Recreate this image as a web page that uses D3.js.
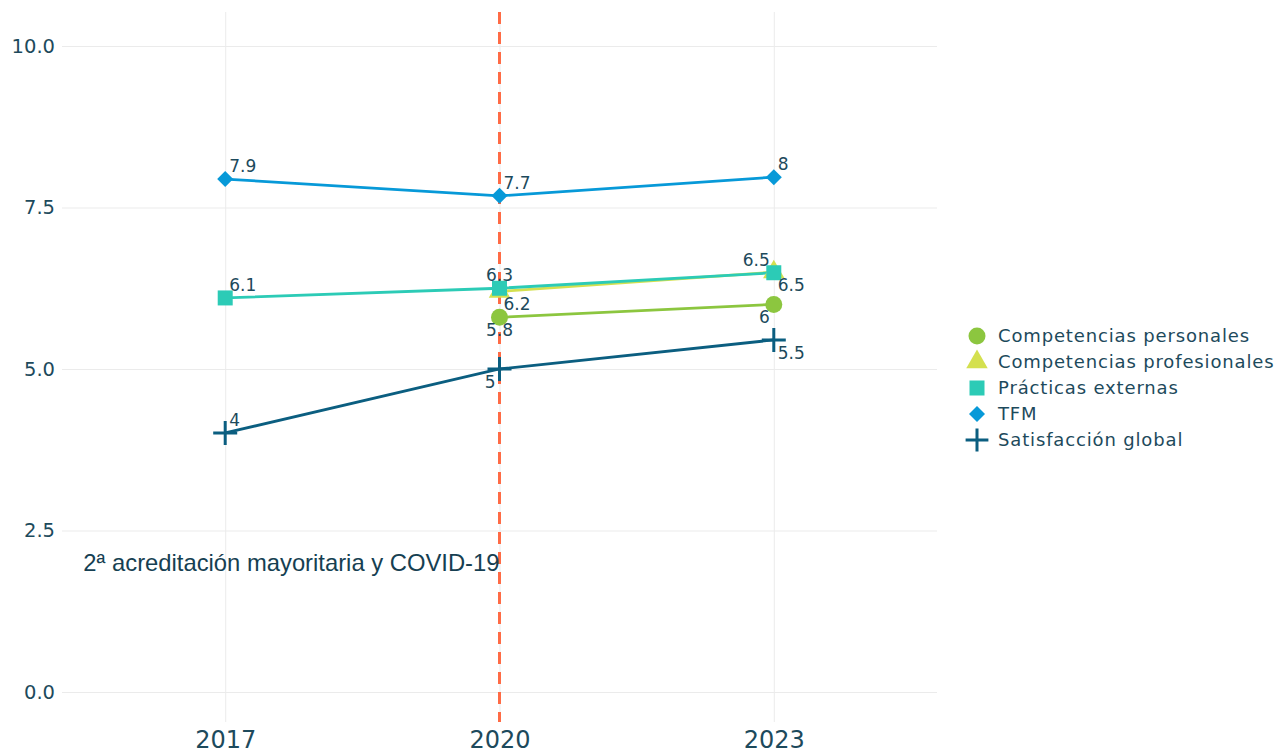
<!DOCTYPE html>
<html>
<head>
<meta charset="utf-8">
<script src="https://cdn.jsdelivr.net/npm/d3@7"></script>
<style>
  html, body { margin: 0; padding: 0; background: #ffffff; }
  svg { display: block; }
</style>
</head>
<body>
<svg id="chart" width="1279" height="753"></svg>
<script>
// Years on the x axis
const years = [2017, 2020, 2023];

// Scores per indicator (null = no survey that year)
const competenciasPersonales    = [null, 5.8, 6.0];
const competenciasProfesionales = [null, 6.2, 6.5];
const practicasExternas         = [6.1, 6.25, 6.49];
const tfm                       = [7.94, 7.68, 7.97];
const satisfaccionGlobal        = [4.01, 5.0, 5.45];

// Value labels shown next to each point
const labelsPersonales    = [null, "5.8", "6"];
const labelsProfesionales = [null, "6.2", "6.5"];
const labelsPracticas     = ["6.1", "6.3", "6.5"];
const labelsTfm           = ["7.9", "7.7", "8"];
const labelsSatisfaccion  = ["4", "5", "5.5"];

const yTicks = [0, 2.5, 5, 7.5, 10];
const eventYear = 2020;
const eventLabel = "2ª acreditación mayoritaria y COVID-19";

const series = [
  { name: "Competencias personales", values: competenciasPersonales, labels: labelsPersonales,
    color: "#8cc63f", symbol: "circle", pos: [null, "bottom", "bottom left"] },
  { name: "Competencias profesionales", values: competenciasProfesionales, labels: labelsProfesionales,
    color: "#d4e04f", symbol: "triangle", pos: [null, "bottom right", "bottom right"] },
  { name: "Prácticas externas", values: practicasExternas, labels: labelsPracticas,
    color: "#2ccbb6", symbol: "square", pos: ["top right", "top", "top left"] },
  { name: "TFM", values: tfm, labels: labelsTfm,
    color: "#0799d8", symbol: "diamond", pos: ["top right", "top right", "top right"] },
  { name: "Satisfacción global", values: satisfaccionGlobal, labels: labelsSatisfaccion,
    color: "#0b5e80", symbol: "cross", pos: ["top right", "bottom left", "bottom right"] }
];

const textColor = "#1d4a5c";
const font = "'DejaVu Sans', sans-serif";

const svg = d3.select("#chart");
const plot = { left: 62, right: 937, top: 12, bottom: 722 };

const x = d3.scaleLinear().domain([2015.215, 2024.785]).range([plot.left, plot.right]);
const y = d3.scaleLinear().domain([-0.464, 10.526]).range([plot.bottom, plot.top]);

// Gridlines and axes
const yAxis = d3.axisLeft(y).tickValues(yTicks).tickFormat(d3.format(".1f"))
  .tickSize(-(plot.right - plot.left)).tickPadding(7);
const gy = svg.append("g").attr("transform", `translate(${plot.left},0)`).call(yAxis);
gy.select(".domain").remove();
gy.selectAll(".tick line").attr("stroke", "#ebebeb").attr("stroke-width", 1);
gy.selectAll(".tick text").attr("fill", textColor).attr("font-family", font)
  .attr("font-size", 19.5);

const xAxis = d3.axisBottom(x).tickValues(years).tickFormat(d3.format("d"))
  .tickSize(-(plot.bottom - plot.top)).tickPadding(9);
const gx = svg.append("g").attr("transform", `translate(0,${plot.bottom})`).call(xAxis);
gx.select(".domain").remove();
gx.selectAll(".tick line").attr("stroke", "#ebebeb").attr("stroke-width", 1);
gx.selectAll(".tick text").attr("fill", textColor).attr("font-family", font)
  .attr("font-size", 24);

// Event marker
svg.append("line")
  .attr("x1", x(eventYear)).attr("x2", x(eventYear))
  .attr("y1", plot.top).attr("y2", plot.bottom)
  .attr("stroke", "#ff6b45").attr("stroke-width", 3)
  .attr("stroke-dasharray", "12,8");

svg.append("text")
  .attr("x", x(eventYear)).attr("y", y(2.0))
  .attr("dy", "0.35em")
  .attr("text-anchor", "end")
  .attr("fill", "#163f52")
  .attr("font-family", "'Liberation Sans', Arial, sans-serif")
  .attr("font-size", 23.8)
  .text(eventLabel);

// Marker drawing helper
function marker(g, symbol, color, scale) {
  const s = scale || 1;
  if (symbol === "circle") {
    g.append("circle").attr("r", 8.5 * s).attr("fill", color);
  } else if (symbol === "triangle") {
    g.append("path").attr("d", d3.symbol(d3.symbolTriangle, 200 * s * s)()).attr("fill", color);
  } else if (symbol === "square") {
    const h = 7.5 * s;
    g.append("rect").attr("x", -h).attr("y", -h).attr("width", 2 * h).attr("height", 2 * h).attr("fill", color);
  } else if (symbol === "diamond") {
    const h = 8 * s;
    g.append("path").attr("d", `M0,${-h}L${h},0L0,${h}L${-h},0Z`).attr("fill", color);
  } else if (symbol === "cross") {
    const h = 12 * s;
    g.append("path").attr("d", `M${-h},0H${h}M0,${-h}V${h}`)
      .attr("stroke", color).attr("stroke-width", 3).attr("fill", "none");
  }
}

const line = d3.line()
  .defined(d => d.v != null)
  .x(d => x(d.year)).y(d => y(d.v));

// Lines
series.forEach(s => {
  const pts = years.map((yr, i) => ({ year: yr, v: s.values[i] }));
  svg.append("path").datum(pts)
    .attr("d", line).attr("fill", "none")
    .attr("stroke", s.color).attr("stroke-width", 2.8);
});

// Markers
series.forEach(s => {
  years.forEach((yr, i) => {
    if (s.values[i] == null) return;
    const g = svg.append("g").attr("transform", `translate(${x(yr)},${y(s.values[i])})`);
    marker(g, s.symbol, s.color);
  });
});

// Value labels
series.forEach(s => {
  years.forEach((yr, i) => {
    if (s.values[i] == null || !s.labels[i]) return;
    const p = s.pos[i];
    let dx = 0, dy = 0, anchor = "middle";
    if (p.includes("right")) { anchor = "start"; dx = 4; }
    if (p.includes("left")) { anchor = "end"; dx = -4; }
    if (p.startsWith("top")) dy = -7;
    if (p.startsWith("bottom")) dy = 19;
    svg.append("text")
      .attr("x", x(yr) + dx).attr("y", y(s.values[i]) + dy)
      .attr("text-anchor", anchor)
      .attr("fill", textColor)
      .attr("font-family", font)
      .attr("font-size", 17)
      .text(s.labels[i]);
  });
});

// Legend
const legend = svg.append("g").attr("transform", "translate(977,336)");
series.forEach((s, i) => {
  const row = legend.append("g").attr("transform", `translate(0,${i * 26})`);
  marker(row.append("g"), s.symbol, s.color, s.symbol === "cross" ? 0.95 : 1);
  row.append("text").attr("x", 21).attr("y", 0).attr("dy", "0.35em")
    .attr("fill", textColor).attr("font-family", font).attr("font-size", 18)
    .attr("letter-spacing", 0.85)
    .text(s.name);
});
</script>
</body>
</html>
